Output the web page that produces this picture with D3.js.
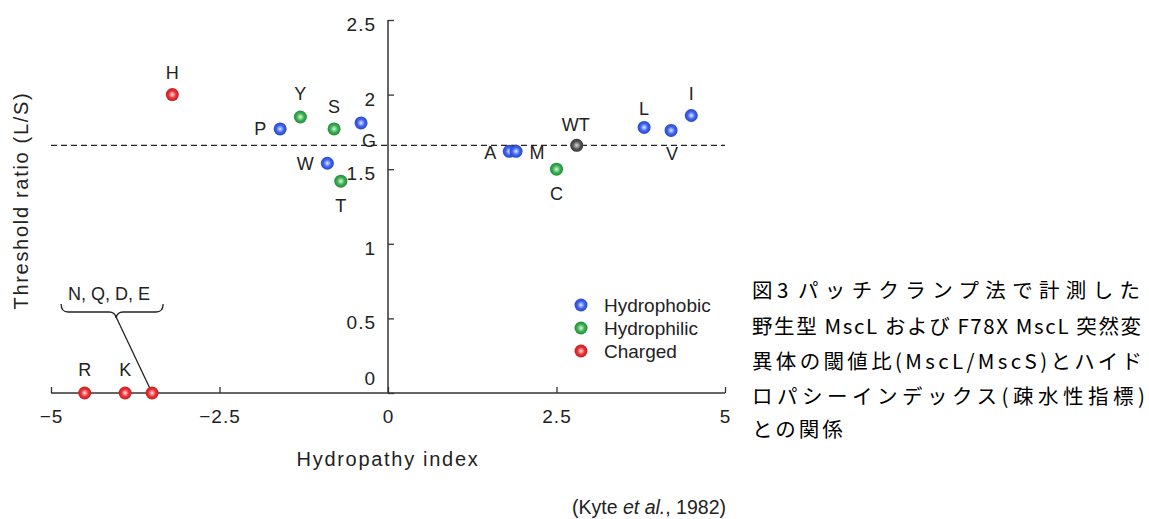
<!DOCTYPE html>
<html>
<head>
<meta charset="utf-8">
<script src="https://d3js.org/d3.v7.min.js"></script>
<style>
  body { margin: 0; background: #fff; }
  svg { display: block; }
  text { font-family: "Liberation Sans", Arial, sans-serif; fill: #222; }
  .cap { font-family: "Noto Sans CJK JP", sans-serif; font-size: 20.5px; font-weight: 400; fill: #000; }
</style>
</head>
<body>
<svg id="chart" width="1149" height="519"></svg>
<script>
// residues, Kyte-Doolittle hydropathy index, threshold ratio (L/S) and group
var names  = ["H", "Y", "P", "S", "G", "W", "T", "A", "M", "WT", "C", "L", "V", "I", "R", "K", "NQDE"];
var hydro  = [-3.2, -1.3, -1.6, -0.8, -0.4, -0.9, -0.7, 1.8, 1.9, 2.8, 2.5, 3.8, 4.2, 4.5, -4.5, -3.9, -3.5];
var ratio  = [2.0, 1.85, 1.77, 1.77, 1.81, 1.54, 1.42, 1.62, 1.62, 1.66, 1.50, 1.78, 1.76, 1.86, 0, 0, 0];
var groups = ["Charged", "Hydrophilic", "Hydrophobic", "Hydrophilic", "Hydrophobic", "Hydrophobic", "Hydrophilic",
              "Hydrophobic", "Hydrophobic", "WT", "Hydrophilic", "Hydrophobic", "Hydrophobic", "Hydrophobic",
              "Charged", "Charged", "Charged"];
var legendNames = ["Hydrophobic", "Hydrophilic", "Charged"];
var xTicks = [-5, -2.5, 0, 2.5, 5];
var yTicks = [0, 0.5, 1, 1.5, 2, 2.5];
var wtRatio = 1.66;
var capHead = ["図", "3"];
var caption = [
  "パッチクランプ法で計測した",
  "野生型 MscL および F78X MscL 突然変",
  "異体の閾値比(MscL/MscS)とハイド",
  "ロパシーインデックス(疎水性指標)",
  "との関係"
];

var colors = {
  Hydrophobic: ["#e4eaff", "#3f66f2", "#2a46c8"],
  Hydrophilic: ["#e0f5e3", "#3cb452", "#24873a"],
  Charged:     ["#ffe3e3", "#ee3336", "#c11d22"],
  WT:          ["#dcdcdc", "#5c5c5c", "#333333"]
};

// where each label sits relative to its point
var labelOff = {
  H: [0, -22], Y: [0, -23], S: [0, -22], P: [-20, 0], G: [8, 18], W: [-22, 0], T: [0, 24],
  A: [-19, 1], M: [21, 1], WT: [-1, -21], C: [0, 24], L: [0, -19], V: [1, 23], I: [0, -22],
  R: [0, -23], K: [0, -23]
};

var svg = d3.select("#chart");

var x = d3.scaleLinear().domain([-5, 5]).range([51, 725]);
var y = d3.scaleLinear().domain([0, 2.5]).range([393, 20]);

// gradients for shaded dots
var defs = svg.append("defs");
Object.keys(colors).forEach(function (k) {
  var g = defs.append("radialGradient").attr("id", "grad-" + k)
    .attr("cx", "50%").attr("cy", "50%").attr("r", "50%");
  g.append("stop").attr("offset", "0%").attr("stop-color", colors[k][0]);
  g.append("stop").attr("offset", "55%").attr("stop-color", colors[k][1]);
  g.append("stop").attr("offset", "100%").attr("stop-color", colors[k][2]);
});

// axes (ticks point inward)
var xAxis = svg.append("g").attr("transform", "translate(0," + y(0) + ")")
  .call(d3.axisBottom(x).tickValues(xTicks).tickSize(-6).tickFormat(d3.format("")));
var yAxis = svg.append("g").attr("transform", "translate(" + x(0) + ",0)")
  .call(d3.axisLeft(y).tickValues(yTicks).tickSize(-6).tickFormat(d3.format("")));

[xAxis, yAxis].forEach(function (a) {
  a.select(".domain").attr("stroke", "#333").attr("stroke-width", 1.5);
  a.selectAll(".tick line").attr("stroke", "#333").attr("stroke-width", 1.3);
  a.selectAll(".tick text").style("font-family", "Liberation Sans, Arial")
    .style("font-size", "19px").attr("fill", "#222").style("letter-spacing", "1px");
});
xAxis.select(".domain").attr("d", "M" + x(-5) + ",0H" + x(5));
yAxis.select(".domain").attr("d", "M0," + y(2.5) + "V" + y(0));
xAxis.selectAll(".tick text").attr("y", 17).attr("dy", "0.71em");
yAxis.selectAll(".tick text").attr("x", -12).attr("dy", function (d) { return d === 0 ? "-0.45em" : "0.55em"; });

// WT threshold line
svg.append("line")
  .attr("x1", x(-5)).attr("x2", x(5))
  .attr("y1", y(wtRatio)).attr("y2", y(wtRatio))
  .attr("stroke", "#222").attr("stroke-width", 1.2).attr("stroke-dasharray", "6,4");

// axis titles
svg.append("text").attr("x", x(0)).attr("y", 466)
  .attr("text-anchor", "middle").style("font-size", "20px").style("letter-spacing", "1.7px")
  .text("Hydropathy index");
svg.append("text").attr("transform", "translate(28," + y(1.29) + ") rotate(-90)")
  .attr("text-anchor", "middle").style("font-size", "20px").style("letter-spacing", "1.7px")
  .text("Threshold ratio (L/S)");

// bracket for N, Q, D, E
var iN = names.indexOf("NQDE");
var bx = x(hydro[iN]) - 40, by = y(ratio[iN]) - 90;
svg.append("text").attr("x", bx - 3).attr("y", by - 3).attr("text-anchor", "middle")
  .style("font-size", "18px").text("N, Q, D, E");
svg.append("path")
  .attr("d", "M" + (bx - 51) + "," + (by + 1) + " q0,8 7,8 H" + (bx - 3) + " q6,0 7,6 q1,-6 7,-6 H" + (bx + 44) + " q7,0 7,-8")
  .attr("fill", "none").attr("stroke", "#222").attr("stroke-width", 1.3);
svg.append("line").attr("x1", bx + 4).attr("y1", by + 14)
  .attr("x2", x(hydro[iN])).attr("y2", y(ratio[iN]))
  .attr("stroke", "#222").attr("stroke-width", 1.3);

// dots
var idx = d3.range(names.length);
svg.append("g").selectAll("circle").data(idx).join("circle")
  .attr("cx", function (i) { return x(hydro[i]); })
  .attr("cy", function (i) { return y(ratio[i]); })
  .attr("r", 6.5)
  .attr("fill", function (i) { return "url(#grad-" + groups[i] + ")"; });

// point labels
svg.append("g").selectAll("text").data(idx.filter(function (i) { return labelOff[names[i]]; })).join("text")
  .attr("x", function (i) { return x(hydro[i]) + labelOff[names[i]][0]; })
  .attr("y", function (i) { return y(ratio[i]) + labelOff[names[i]][1]; })
  .attr("text-anchor", "middle").attr("dy", "0.36em")
  .style("font-size", "18px")
  .text(function (i) { return names[i]; });

// legend
var lg = svg.append("g").attr("transform", "translate(581,305)");
legendNames.forEach(function (n, k) {
  lg.append("circle").attr("cx", 0).attr("cy", k * 23).attr("r", 6.5).attr("fill", "url(#grad-" + n + ")");
  lg.append("text").attr("x", 23).attr("y", k * 23).attr("dy", "0.36em").style("font-size", "19px").text(n);
});

// source note
var src = svg.append("text").attr("x", 726).attr("y", 514).attr("text-anchor", "end").style("font-size", "19.5px");
src.append("tspan").text("(Kyte ");
src.append("tspan").style("font-style", "italic").text("et al.");
src.append("tspan").text(", 1982)");

// Japanese caption
var capX = [798, 752, 752, 752, 752];
var capLen = [342, 389, 390, 393, null];
var capBase = [298, 333.5, 368.5, 403.5, 437];
svg.append("text").attr("class", "cap").attr("x", 752).attr("y", capBase[0]).text(capHead[0]);
svg.append("text").attr("class", "cap").attr("x", 777).attr("y", capBase[0]).text(capHead[1]);
caption.forEach(function (line, k) {
  var t = svg.append("text").attr("class", "cap").attr("x", capX[k]).attr("y", capBase[k]).text(line);
  if (capLen[k]) t.attr("textLength", capLen[k]).attr("lengthAdjust", "spacing");
  else t.style("letter-spacing", "3px");
});
</script>
</body>
</html>
